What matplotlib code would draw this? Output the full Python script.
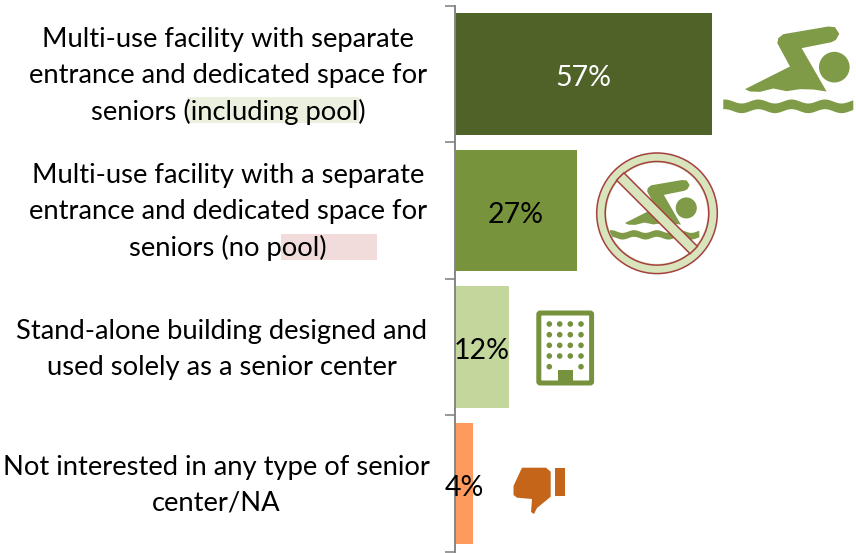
import numpy as np
import matplotlib
matplotlib.use("Agg")
import matplotlib.pyplot as plt
from matplotlib.patches import Circle, Polygon, Rectangle, FancyBboxPatch

plt.rcParams['font.family'] = ['Lato', 'DejaVu Sans']

# data
categories = [
    "Multi-use facility with separate\nentrance and dedicated space for\nseniors (including pool)",
    "Multi-use facility with a separate\nentrance and dedicated space for\nseniors (no pool)",
    "Stand-alone building designed and\nused solely as a senior center",
    "Not interested in any type of senior\ncenter/NA",
]
values = [57, 27, 12, 4]
bar_colors = ["#4F6228", "#77933C", "#C3D69B", "#FF9A5F"]
label_colors = ["white", "black", "black", "black"]
label_x = [228, 228, 222, 216]
label_y = [76, 212, 349, 485]

GREEN = "#809B48"
W, H = 856, 553

fig = plt.figure(figsize=(W / 100, H / 100), dpi=100)

# main bar axes, lined up with the axis line of the picture
top, bottom = 5.7, 551.7
ax = fig.add_axes([455 / W, 1 - bottom / H, 1 - 455 / W, (bottom - top) / H])
y = np.arange(len(values))
ax.barh(y, values, height=0.89, color=bar_colors)
ax.set_xlim(0, 401 / 4.51)
ax.set_ylim(3.5, -0.5)
for s in ["top", "right", "bottom"]:
    ax.spines[s].set_visible(False)
ax.spines["left"].set_color("#868686")
ax.spines["left"].set_linewidth(1.4)
ax.set_xticks([])
ax.set_yticks(np.arange(-0.5, 4, 1))
ax.set_yticklabels([])
ax.tick_params(axis="y", length=7, width=1.2, color="#868686")
for i, v in enumerate(values):
    ax.text(v / 2, i + 0.03, f"{v}%", ha="center", va="center", fontsize=20.5,
            color=label_colors[i], zorder=5)

# overlay in pixel coordinates for the labels and the icons
ov = fig.add_axes([0, 0, 1, 1], facecolor="none")
ov.set_xlim(0, W)
ov.set_ylim(H, 0)
ov.axis("off")

# highlights behind the words
ov.add_patch(Rectangle((187, 97), 172, 26, color="#EBF1DE", zorder=1, lw=0))
ov.add_patch(Rectangle((281, 234), 96, 26, color="#F2DCDB", zorder=1, lw=0))

for txt, lx, ly in zip(categories, label_x, label_y):
    ov.text(lx, ly, txt, ha="center", va="center", multialignment="center",
            fontsize=19.7, linespacing=1.55, color="black", zorder=3)


def swimmer(sx, ox, oy, color=GREEN, zorder=3):
    # outline measured on the 3x crop, scaled and moved into place
    def P(x, y):
        return (ox + (x - 880) * sx, oy + (y - 80) * sx)
    body = [(945, 268), (1080, 200), (1042, 130), (1045, 115), (1060, 103),
            (1195, 80), (1215, 82), (1228, 102), (1218, 120), (1205, 127),
            (1115, 145), (1190, 275), (1150, 269), (1110, 268), (1070, 274),
            (1030, 266), (990, 276), (960, 275)]
    ov.add_patch(Polygon([P(*p) for p in body], closed=True, color=color, lw=0, zorder=zorder))
    ov.add_patch(Circle(P(1213, 202), 46 * sx, color=color, lw=0, zorder=zorder))
    wx = np.linspace(880, 1270, 80)
    wtop = 305 + 6 * np.cos((wx - 935) / 390 * 2 * np.pi * 3.9)
    wave = [P(a, b) for a, b in zip(wx, wtop)] + \
           [P(a, b + 29) for a, b in zip(wx[::-1], wtop[::-1])]
    ov.add_patch(Polygon(wave, closed=True, color=color, lw=0, zorder=zorder))


# big swimmer
swimmer(1 / 3, 723.3, 26.5)

# no-pool sign
cx, cy = 657, 213.3
swimmer(0.229, 610, 180)
ov.add_patch(Circle((cx, cy), 55.5, fc="none", ec="#D8E4BC", lw=7.2, zorder=4))
ov.add_patch(Circle((cx, cy), 60.3, fc="none", ec="#A5403F", lw=1.1, zorder=5))
ov.add_patch(Circle((cx, cy), 51.8, fc="none", ec="#A5403F", lw=1.1, zorder=5))
ang = np.deg2rad(45)
d = np.array([np.cos(ang), np.sin(ang)])
n = np.array([-d[1], d[0]])
r_bar, half = 52, 5.2
bar = [np.array([cx, cy]) + s * r_bar * d + t * half * n
       for s, t in [(-1, -1), (1, -1), (1, 1), (-1, 1)]]
ov.add_patch(Polygon(bar, closed=True, fc="#D8E4BC", ec="#A5403F", lw=1.1, zorder=6))

# building
BLD = "#76923C"
ov.add_patch(FancyBboxPatch((538.8, 313), 52.8, 70, boxstyle="round,pad=0,rounding_size=1.5",
                            fc="white", ec=BLD, lw=3.6, zorder=3))
win_x = [549.3, 559.7, 570.3, 581]
win_y = [324, 334.7, 345.3, 356]
for wy in win_y:
    for wx_ in win_x:
        ov.add_patch(Circle((wx_, wy), 2.8, color=BLD, lw=0, zorder=4))
for wx_ in [win_x[0], win_x[3]]:
    ov.add_patch(Circle((wx_, 366.7), 2.8, color=BLD, lw=0, zorder=4))
ov.add_patch(Rectangle((557.7, 369.7), 15.3, 12, color=BLD, lw=0, zorder=4))

# thumbs down
THUMB = "#C5651A"
palm = [(522, 467.7), (546, 467.7), (550.7, 471.7), (550.7, 496.7), (537, 508),
        (534, 514), (531, 512), (532, 499), (517, 497.7), (513.5, 495), (513.5, 486)]
ov.add_patch(Polygon(palm, closed=True, color=THUMB, lw=0, zorder=3))
ov.add_patch(Rectangle((555.3, 467.7), 9.4, 28, color=THUMB, lw=0, zorder=3))

fig.savefig("out.png", dpi=100)
